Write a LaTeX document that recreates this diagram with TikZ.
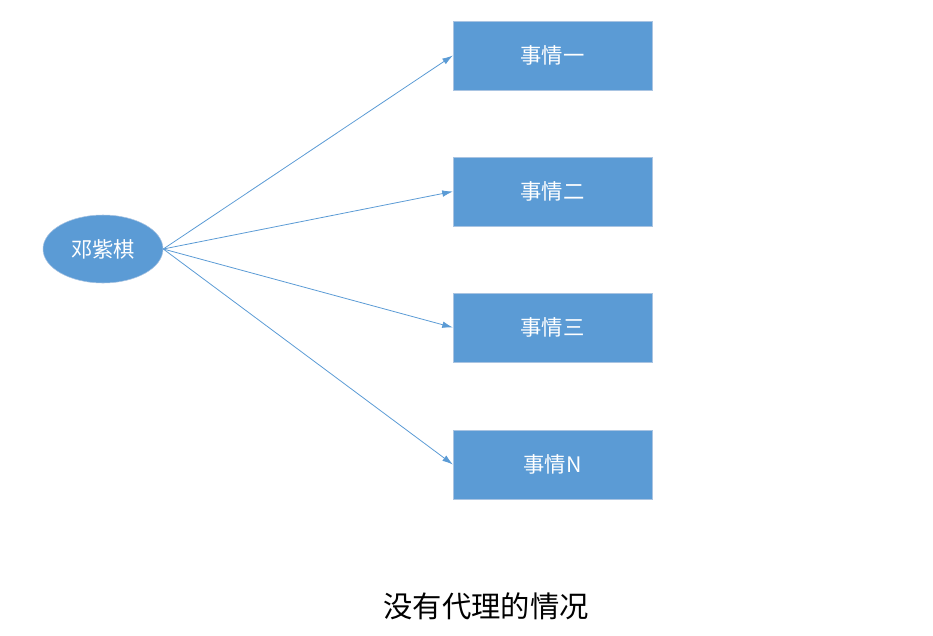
\documentclass[tikz,border=0pt]{standalone}
\usepackage{fontspec}
\setmainfont{Noto Sans CJK SC}
\usetikzlibrary{arrows.meta,shapes.geometric}
\definecolor{taskblue}{HTML}{5B9BD5}
\definecolor{taskedge}{HTML}{A9C4E2}
\definecolor{linkblue}{HTML}{5B9BD5}
\begin{document}
\begin{tikzpicture}[
	x=0.75pt, y=-0.75pt,
	person/.style={ ellipse, fill=taskblue, draw=taskedge, thin, text=white, minimum width=90pt, minimum height=51pt, inner sep=0pt, font=\fontsize{16}{19}\selectfont },
	task/.style={ rectangle, fill=taskblue, draw=taskedge, thin, text=white, minimum width=149pt, minimum height=52pt, inner sep=0pt, font=\fontsize{16}{19}\selectfont },
	link/.style={ draw=linkblue, line width=0.6pt, -{Latex[length=8pt,width=5pt]} }
]
	\useasboundingbox (0,0) rectangle (933,636);

	\node[person] (dzq) at (103,249) {邓紫棋};
	\foreach \i/\y/\t in {1/55.5/事情一, 2/191.5/事情二, 3/327.5/事情三, 4/464.5/事情N} {
		\node[task] (task\i) at (552.5,\y) {\t};
		\draw[link] (dzq.east) -- (task\i.west);
	}

	\node[font=\fontsize{22}{26}\selectfont] (caption) at (486,606) {没有代理的情况};
\end{tikzpicture}
\end{document}
